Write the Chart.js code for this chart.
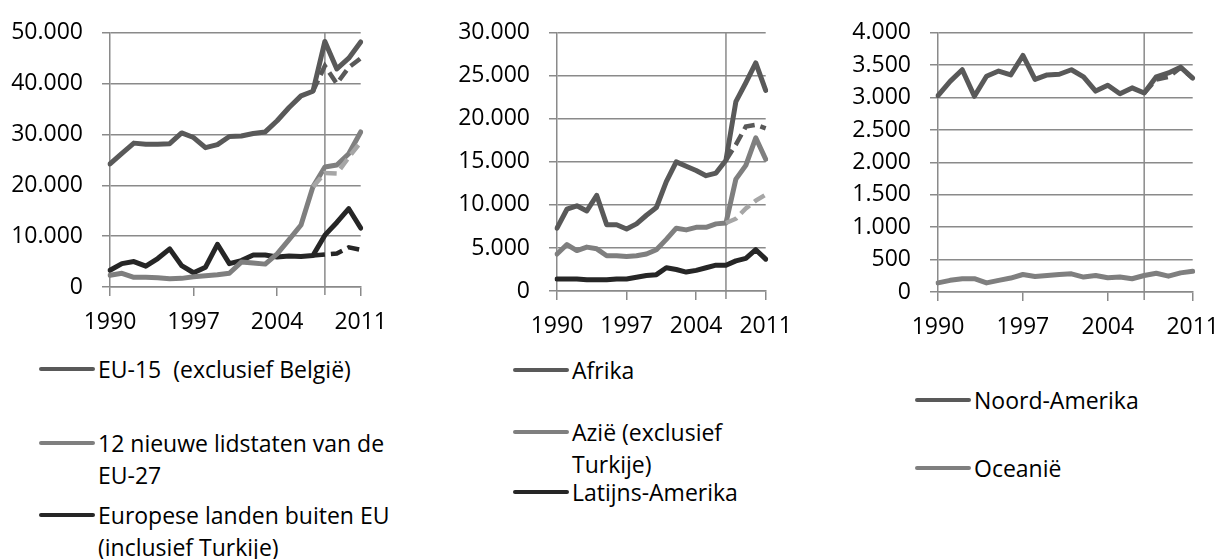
<!DOCTYPE html>
<html lang="nl">
<head>
    <meta charset="UTF-8">
    <title>Migratie per herkomstregio</title>
    <style>
        body {
            margin: 0;
            background: #fff;
            font-family: "Open Sans", sans-serif;
            color: #000;
        }

        #wrap {
            position: relative;
            width: 1232px;
            height: 559px;
            overflow: hidden;
        }

        #wrap canvas {
            position: absolute;
            top: 0;
        }

        .item {
            position: absolute;
            font-size: 23px;
            line-height: 32px;
            white-space: nowrap;
        }

        .item .swatch {
            position: absolute;
            top: 14px;
            height: 4px;
            width: 56px;
            border-radius: 2px;
        }
    </style>
</head>
<body>
<div id="wrap">
    <canvas id="c1" width="400" height="345" style="left:0px"></canvas>
    <canvas id="c2" width="405" height="345" style="left:400px"></canvas>
    <canvas id="c3" width="422" height="345" style="left:810px"></canvas>

    <div class="item" style="left:98px; top:353px"><span class="swatch" style="left:-59px; background:#595959"></span>EU-15&nbsp; (exclusief België)</div>
    <div class="item" style="left:98px; top:427px"><span class="swatch" style="left:-59px; background:#7f7f7f"></span>12 nieuwe lidstaten van de<br>EU-27</div>
    <div class="item" style="left:98px; top:499px"><span class="swatch" style="left:-59px; background:#262626"></span>Europese landen buiten EU<br>(inclusief Turkije)</div>

    <div class="item" style="left:572px; top:354px"><span class="swatch" style="left:-59px; background:#595959"></span>Afrika</div>
    <div class="item" style="left:572px; top:416px"><span class="swatch" style="left:-59px; background:#7f7f7f"></span>Azië (exclusief<br>Turkije)</div>
    <div class="item" style="left:572px; top:476px"><span class="swatch" style="left:-59px; background:#262626"></span>Latijns-Amerika</div>

    <div class="item" style="left:974px; top:384px"><span class="swatch" style="left:-59px; background:#595959"></span>Noord-Amerika</div>
    <div class="item" style="left:974px; top:452px"><span class="swatch" style="left:-59px; background:#7f7f7f"></span>Oceanië</div>
</div>

<script src="https://cdn.jsdelivr.net/npm/chart.js"></script>
<script>
    const years = [1990, 1991, 1992, 1993, 1994, 1995, 1996, 1997, 1998, 1999, 2000,
                   2001, 2002, 2003, 2004, 2005, 2006, 2007, 2008, 2009, 2010, 2011];

    // Europa
    const eu15       = [24200, 26300, 28300, 28100, 28100, 28200, 30300, 29400, 27400, 28000, 29600,
                        29700, 30200, 30500, 32700, 35300, 37600, 38500, 48300, 42900, 45000, 48200];
    const eu15Alt    = [null, null, null, null, null, null, null, null, null, null, null,
                        null, null, null, null, null, null, 38500, 43500, 40000, 43200, 45000];
    const newEu12    = [2300, 2700, 1900, 1900, 1800, 1600, 1700, 2000, 2200, 2400, 2700,
                        4900, 4700, 4500, 6500, 9300, 12200, 19700, 23600, 24000, 26200, 30500];
    const newEu12Alt = [null, null, null, null, null, null, null, null, null, null, null,
                        null, null, null, null, null, null, 19700, 22400, 22300, 25500, 28500];
    const euroNonEu  = [3300, 4600, 5000, 4100, 5600, 7500, 4200, 2800, 3900, 8400, 4600,
                        5200, 6300, 6300, 5900, 6100, 6000, 6200, 10200, 12700, 15400, 11600];
    const euroNonEuAlt = [null, null, null, null, null, null, null, null, null, null, null,
                        null, null, null, null, null, null, 6200, 6400, 6600, 7800, 7300];

    // Afrika, Azië, Latijns-Amerika
    const afrika     = [7300, 9500, 9900, 9300, 11100, 7700, 7700, 7200, 7800, 8800, 9700,
                        12700, 15000, 14500, 14000, 13400, 13700, 15200, 22000, 24200, 26500, 23300];
    const afrikaAlt  = [null, null, null, null, null, null, null, null, null, null, null,
                        null, null, null, null, null, null, 15200, 17000, 19100, 19300, 18900];
    const azie       = [4300, 5400, 4700, 5100, 4900, 4100, 4100, 4000, 4100, 4300, 4800,
                        6000, 7300, 7100, 7400, 7400, 7800, 7900, 13000, 14600, 17800, 15300];
    const azieAlt    = [null, null, null, null, null, null, null, null, null, null, null,
                        null, null, null, null, null, null, 7900, 8400, 9600, 10500, 11200];
    const latAm      = [1400, 1400, 1400, 1300, 1300, 1300, 1400, 1400, 1600, 1800, 1900,
                        2700, 2500, 2200, 2400, 2700, 3000, 3000, 3500, 3800, 4800, 3700];

    // Noord-Amerika, Oceanië
    const noordAm    = [3030, 3250, 3430, 3020, 3330, 3410, 3350, 3650, 3280, 3350, 3360,
                        3430, 3320, 3100, 3190, 3060, 3150, 3070, 3320, 3380, 3470, 3300];
    const noordAmAlt = [null, null, null, null, null, null, null, null, null, null, null,
                        null, null, null, null, null, null, 3070, 3280, 3320, 3460, 3300];
    const oceanie    = [140, 180, 205, 205, 140, 180, 215, 270, 240, 255, 270,
                        280, 230, 255, 220, 230, 205, 255, 290, 245, 295, 320];

    const yMax = [50000, 30000, 4000];
    const yStep = [10000, 5000, 500];
    const breakYear = [2008, 2007, 2007];

    const DARK = '#595959', MID = '#7f7f7f', BLACK = '#262626', LIGHT = '#a6a6a6';
    const GRID = '#8a8a8a';

    function fmt(v) {
        return String(v).replace(/\B(?=(\d{3})+(?!\d))/g, '.');
    }

    function solid(data, color) {
        return { data, borderColor: color, borderWidth: 5, pointRadius: 0, tension: 0,
                 borderJoinStyle: 'round', borderCapStyle: 'round', fill: false };
    }

    function dashed(data, color) {
        return { data, borderColor: color, borderWidth: 4.5, pointRadius: 0, tension: 0,
                 borderDash: [12, 6], fill: false };
    }

    // vertical marker line at the break in the series
    const breakLine = {
        id: 'breakLine',
        beforeDatasetsDraw(chart, args, opts) {
            const x = chart.scales.x.getPixelForValue(years.indexOf(opts.year));
            const area = chart.chartArea;
            const ctx = chart.ctx;
            ctx.save();
            ctx.strokeStyle = GRID;
            ctx.lineWidth = 1.5;
            ctx.beginPath();
            ctx.moveTo(x, area.top);
            ctx.lineTo(x, area.bottom + 8);
            ctx.stroke();
            ctx.restore();
        }
    };

    function makeChart(id, n, datasets, box) {
        const font = { family: '"Open Sans", sans-serif', size: 23 };
        new Chart(document.getElementById(id), {
            type: 'line',
            data: { labels: years, datasets },
            options: {
                responsive: false,
                animation: false,
                layout: { padding: { top: box.top, right: box.right, left: 0, bottom: 0 } },
                plugins: {
                    legend: { display: false },
                    tooltip: { enabled: false },
                    breakLine: { year: breakYear[n] }
                },
                scales: {
                    x: {
                        offset: false,
                        afterFit: s => { s.height = box.xh; },
                        grid: {
                            drawOnChartArea: false,
                            drawTicks: true,
                            tickLength: 9,
                            lineWidth: 1.5,
                            color: c => (c.index % 7 === 0 ? GRID : 'rgba(0,0,0,0)')
                        },
                        border: { color: GRID, width: 1.5 },
                        ticks: {
                            autoSkip: false,
                            maxRotation: 0,
                            color: '#000',
                            font,
                            padding: 13,
                            callback: (v, i) => (i % 7 === 0 ? String(years[i]) : '')
                        }
                    },
                    y: {
                        min: 0,
                        max: yMax[n],
                        afterFit: s => { s.width = box.yw; },
                        grid: { color: GRID, lineWidth: 1.5, tickLength: 8 },
                        border: { color: GRID, width: 1.5 },
                        ticks: {
                            stepSize: yStep[n],
                            color: '#000',
                            font,
                            padding: 19,
                            callback: v => fmt(v)
                        }
                    }
                }
            },
            plugins: [breakLine]
        });
    }

    makeChart('c1', 0, [
        dashed(newEu12Alt, LIGHT),
        dashed(euroNonEuAlt, BLACK),
        dashed(eu15Alt, DARK),
        solid(eu15, DARK),
        solid(newEu12, MID),
        solid(euroNonEu, BLACK)
    ], { top: 26, right: 31, yw: 110, xh: 58 });

    makeChart('c2', 1, [
        dashed(azieAlt, LIGHT),
        dashed(afrikaAlt, DARK),
        solid(afrika, DARK),
        solid(azie, MID),
        solid(latAm, BLACK)
    ], { top: 27, right: 29, yw: 157, xh: 54 });

    makeChart('c3', 2, [
        dashed(noordAmAlt, DARK),
        solid(noordAm, DARK),
        solid(oceanie, MID)
    ], { top: 25, right: 29, yw: 128, xh: 53 });
</script>
</body>
</html>
